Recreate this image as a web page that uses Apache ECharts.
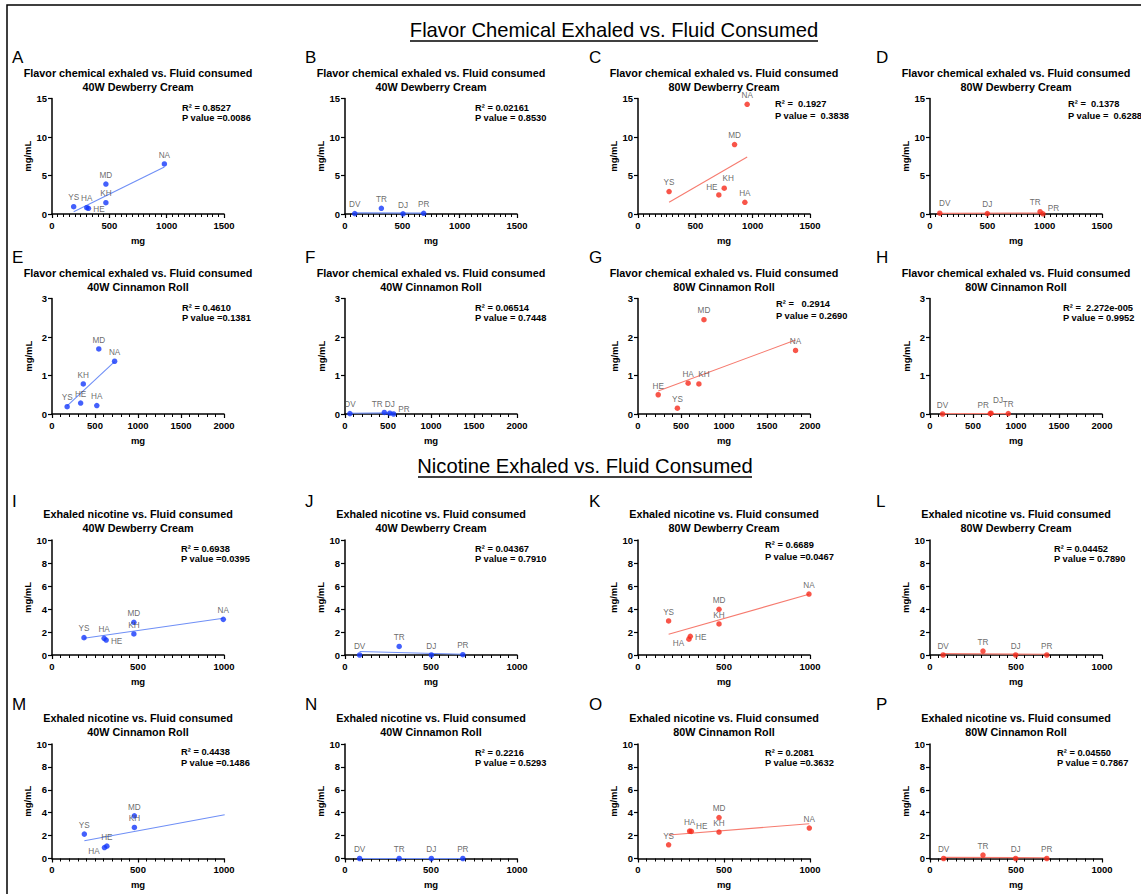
<!DOCTYPE html>
<html><head><meta charset="utf-8">
<script src="https://cdn.jsdelivr.net/npm/echarts@6/dist/echarts.min.js"></script>
<style>html,body{margin:0;padding:0;background:#fff}#c{width:1141px;height:894px}</style>
</head><body><div id="c"></div>
<script>
const FONT = '"Liberation Sans", Arial, Helvetica, sans-serif';

// ---------- DATA ----------
const subj6 = ['YS','HA','HE','KH','MD','NA'];
const subj4 = ['DV','TR','DJ','PR'];

// Flavor chemical exhaled (mg/mL) vs fluid consumed (mg)
const aX = [189, 303, 318, 470, 470, 980];   const aY = [0.95, 0.82, 0.74, 1.47, 3.89, 6.5];
const aFit = [[189, 0.3], [980, 6.1]];
const bX = [85, 317, 506, 686];              const bY = [0.05, 0.74, 0.02, 0.09];
const bFit = [[85, 0.15], [686, 0.12]];
const cX = [271, 932, 705, 752, 842, 952];   const cY = [2.92, 1.52, 2.48, 3.35, 9.02, 14.25];
const cFit = [[271, 1.53], [952, 7.41]];
const dX = [85, 960, 500, 985];              const dY = [0.1, 0.3, 0.05, 0.02];
const dFit = [[85, 0.08], [985, 0.12]];
const eX = [176, 521, 333, 364, 544, 728];   const eY = [0.19, 0.22, 0.285, 0.78, 1.69, 1.37];
const eFit = [[176, 0.21], [728, 1.36]];
const fX = [57, 457, 521, 565];              const fY = [0.01, 0.04, 0.02, 0.0];
const fFit = [[57, 0.02], [565, 0.03]];
const gX = [458, 583, 235, 708, 767, 1832];  const gY = [0.15, 0.80, 0.50, 0.78, 2.45, 1.65];
const gFit = [[235, 0.6], [1832, 1.92]];
const hX = [146, 910, 710, 700];             const hY = [0.0, 0.01, 0.02, 0.01];
const hFit = [[146, 0.01], [910, 0.01]];

// Exhaled nicotine (mg/mL) vs fluid consumed (mg)
const iX = [186, 303, 315, 476, 476, 996];   const iY = [1.51, 1.45, 1.30, 1.83, 2.84, 3.10];
const iFit = [[186, 1.45], [996, 3.19]];
const jX = [85, 315, 502, 685];              const jY = [0.0, 0.74, 0.0, 0.03];
const jFit = [[85, 0.3], [685, 0.07]];
const kX = [178, 296, 304, 471, 471, 994];   const kY = [2.96, 1.38, 1.62, 2.70, 3.97, 5.30];
const kFit = [[178, 1.8], [994, 5.28]];
const lX = [76, 308, 498, 679];              const lY = [0.0, 0.34, 0.0, 0.0];
const lFit = [[76, 0.12], [679, 0.06]];
const mX = [188, 305, 319, 479, 479, 1004];  const mY = [2.13, 0.96, 1.08, 2.71, 3.73, 3.59];
const mFit = [[188, 1.55], [1004, 3.82]];
const nX = [85, 315, 502, 685];              const nY = [0.0, 0.0, 0.0, 0.0];
const nFit = [[85, 0.0], [685, 0.0]];
const oX = [178, 300, 310, 471, 471, 996];   const oY = [1.20, 2.40, 2.37, 2.31, 3.57, 2.66];
const oFit = [[178, 2.05], [996, 3.04]];
const pX = [79, 308, 498, 679];              const pY = [0.0, 0.3, 0.0, 0.0];
const pFit = [[79, 0.1], [679, 0.07]];

const r2Text = ['R² = 0.8527','R² = 0.02161','R² =  0.1927','R² =  0.1378',
                'R² = 0.4610','R² = 0.06514','R² =   0.2914','R² =  2.272e-005',
                'R² = 0.6938','R² = 0.04367','R² = 0.6689','R² = 0.04452',
                'R² = 0.4438','R² = 0.2216','R² = 0.2081','R² = 0.04550'];
const pText  = ['P value =0.0086','P value = 0.8530','P value =  0.3838','P value =  0.6288',
                'P value =0.1381','P value = 0.7448','P value = 0.2690','P value = 0.9952',
                'P value =0.0395','P value = 0.7910','P value =0.0467','P value = 0.7890',
                'P value =0.1486','P value = 0.5293','P value =0.3632','P value = 0.7867'];
const letters = ['A','B','C','D','E','F','G','H','I','J','K','L','M','N','O','P'];
const titleLine1 = ['Flavor chemical exhaled vs. Fluid consumed','Exhaled nicotine vs. Fluid consumed'];
const flavors = ['40W Dewberry Cream','40W Dewberry Cream','80W Dewberry Cream','80W Dewberry Cream',
                 '40W Cinnamon Roll','40W Cinnamon Roll','80W Cinnamon Roll','80W Cinnamon Roll'];
const sectionTitles = ['Flavor Chemical Exhaled vs. Fluid Consumed','Nicotine Exhaled vs. Fluid Consumed'];
const xTicksMax = [1500, 2000, 1000, 1000];
const yTicksMax = [15, 3, 10, 10];
const yTicksStep = [5, 1, 2, 2];

// ---------- LAYOUT / STYLE ----------
const BLUE = '#1438fb', BLUE_LINE = '#6f8ff6';
const RED = '#f62a1c', RED_LINE = '#f67b6f';
const LABEL_COLOR = '#444444';
const colLeft = [52, 345, 638, 930];
const gridW = 172;
const rowTop = [98.5, 298.5, 540, 744];
const gridH = [115.5, 115.5, 115, 114.5];
const r2Dx = [130,130,137,138, 130,130,138,133, 129,130,127,124, 129,130,127,127];
const r2Dy = [9,9,5,5, 9,9,5,9, 9,9,5,9, 8,9,9,9];
const pDy  = [19,19,17,17, 19,19,17,19, 19,19,17,19, 19,19,19,19];
const labelPos = {
  0: ['top','top','right','top','top','top'],
  1: ['top','top','top','top'],
  2: ['top','top','toplFar','toprSmall','top','top'],
  3: ['topr','topl','top','rightUp'],
  4: ['top','top','top','top','top','top'],
  5: ['top','toplFar','top','rightUp'],
  6: ['top','top','top','topr','top','top'],
  7: ['top','top','toprHigh','toplFar'],
  8: ['top','top','right','top','top','top'],
  9: ['top','top','top','top'],
  10: ['top','leftDown','right','top','top','top'],
  11: ['top','top','top','top'],
  12: ['top','leftDown','top','top','top','top'],
  13: ['top','top','top','top'],
  14: ['top','top','rightUp','top','top','top'],
  15: ['top','top','top','top']
};
const labelShift = {
  top: [0, 0], right: [0, 1], rightUp: [0, -5], leftDown: [0, 4],
  topr: [5, -1], toprSmall: [4, -1], toprHigh: [7, -4], topl: [-5, 0], toplFar: [-7, 1]
};
const labelSide = {right: 'right', rightUp: 'right', leftDown: 'left'};

const xs = [aX,bX,cX,dX,eX,fX,gX,hX,iX,jX,kX,lX,mX,nX,oX,pX];
const ys = [aY,bY,cY,dY,eY,fY,gY,hY,iY,jY,kY,lY,mY,nY,oY,pY];
const fits = [aFit,bFit,cFit,dFit,eFit,fFit,gFit,hFit,iFit,jFit,kFit,lFit,mFit,nFit,oFit,pFit];

const grids = [], xAxes = [], yAxes = [], series = [], elements = [];
const axisTxt = {fontSize: 9.5, fontWeight: 'bold', color: '#000', fontFamily: FONT, formatter: v => String(v)};
for (let p = 0; p < 16; p++) {
  const r = Math.floor(p / 4), c = p % 4;
  const left = colLeft[c], top = rowTop[r], h = gridH[r];
  const isRed = c >= 2;
  grids.push({left: left, top: top, width: gridW, height: h, containLabel: false, outerBoundsMode: 'none'});
  const xmax = xTicksMax[r];
  xAxes.push({
    gridIndex: p, type: 'value', min: 0, max: xmax, interval: 500,
    name: 'mg', nameLocation: 'middle', nameGap: 21,
    nameTextStyle: {fontSize: 9.5, fontWeight: 'bold', color: '#000', fontFamily: FONT},
    axisLine: {show: true, onZero: false, lineStyle: {color: '#000', width: 1.5}},
    axisTick: {show: true, length: 4, lineStyle: {color: '#000', width: 1.2}},
    minorTick: {show: true, splitNumber: xmax === 2000 ? 5 : 10, length: 3, lineStyle: {color: '#000', width: 1}},
    splitLine: {show: false},
    axisLabel: Object.assign({margin: 6}, axisTxt)
  });
  yAxes.push({
    gridIndex: p, type: 'value', min: 0, max: yTicksMax[r], interval: yTicksStep[r],
    name: 'mg/mL', nameLocation: 'middle', nameGap: 19, nameRotate: 90,
    nameTextStyle: {fontSize: 9.5, fontWeight: 'bold', color: '#000', fontFamily: FONT},
    axisLine: {show: true, onZero: false, lineStyle: {color: '#000', width: 1.5}},
    axisTick: {show: true, length: 4, lineStyle: {color: '#000', width: 1.2}},
    splitLine: {show: false},
    axisLabel: Object.assign({margin: 5}, axisTxt)
  });
  series.push({
    type: 'line', xAxisIndex: p, yAxisIndex: p, data: fits[p], symbol: 'none', silent: true,
    lineStyle: {color: isRed ? RED_LINE : BLUE_LINE, width: 1.1}, z: 2, animation: false
  });
  const names = xs[p].length === 6 ? subj6 : subj4;
  const codes = labelPos[p];
  series.push({
    type: 'scatter', xAxisIndex: p, yAxisIndex: p, symbolSize: 5.5, z: 3, animation: false,
    itemStyle: {color: isRed ? RED : BLUE},
    data: names.map((n, i) => ({name: n, value: [xs[p][i], ys[p][i]],
      label: {position: labelSide[codes[i]] || 'top'}})),
    label: {show: true, formatter: '{b}', fontSize: 8.2, color: LABEL_COLOR, fontFamily: FONT,
            distance: 2, textBorderWidth: 0},
    labelLayout: function (params) {
      const s = labelShift[codes[params.dataIndex]] || [0, 0];
      return {dx: s[0], dy: s[1], hideOverlap: false};
    }
  });
  // panel titles
  const cx = left + gridW / 2;
  elements.push({type: 'text', x: cx, y: top - 26, style: {text: titleLine1[r < 2 ? 0 : 1], textAlign: 'center', textVerticalAlign: 'middle', fontSize: 10.8, fontWeight: 'bold', fontFamily: FONT, fill: '#000'}});
  elements.push({type: 'text', x: cx, y: top - 12, style: {text: flavors[(r % 2) * 4 + c], textAlign: 'center', textVerticalAlign: 'middle', fontSize: 10.8, fontWeight: 'bold', fontFamily: FONT, fill: '#000'}});
  // stats
  elements.push({type: 'text', x: left + r2Dx[p], y: top + r2Dy[p], style: {text: r2Text[p], textAlign: 'left', textVerticalAlign: 'middle', fontSize: 9.3, fontWeight: 'bold', fontFamily: FONT, fill: '#000'}});
  elements.push({type: 'text', x: left + r2Dx[p], y: top + pDy[p], style: {text: pText[p], textAlign: 'left', textVerticalAlign: 'middle', fontSize: 9.3, fontWeight: 'bold', fontFamily: FONT, fill: '#000'}});
  // letters
  const letterX = [12, 305, 589, 876][c];
  const letterY = [57, 257, 501, 704][r];
  elements.push({type: 'text', x: letterX, y: letterY, style: {text: letters[p], textAlign: 'left', textVerticalAlign: 'middle', fontSize: 17, fontFamily: FONT, fill: '#000'}});
}
// section titles
elements.push({type: 'text', x: 614, y: 30, style: {text: sectionTitles[0], textAlign: 'center', textVerticalAlign: 'middle', fontSize: 20.2, fontFamily: FONT, fill: '#000'}});
elements.push({type: 'line', shape: {x1: 410, y1: 41, x2: 818, y2: 41}, style: {stroke: '#000', lineWidth: 1.3}});
elements.push({type: 'text', x: 585, y: 466, style: {text: sectionTitles[1], textAlign: 'center', textVerticalAlign: 'middle', fontSize: 20.2, fontFamily: FONT, fill: '#000'}});
elements.push({type: 'line', shape: {x1: 418, y1: 477, x2: 752, y2: 477}, style: {stroke: '#000', lineWidth: 1.3}});
// frame
elements.push({type: 'polyline', shape: {points: [[7, 900], [7, 5], [1145, 5]]}, style: {stroke: '#000', lineWidth: 1.5, fill: null}});

const chart = echarts.init(document.getElementById('c'), null, {renderer: 'svg', width: 1141, height: 894});
chart.setOption({
  backgroundColor: '#fff',
  animation: false,
  grid: grids, xAxis: xAxes, yAxis: yAxes, series: series,
  graphic: {elements: elements}
});
</script></body></html>
